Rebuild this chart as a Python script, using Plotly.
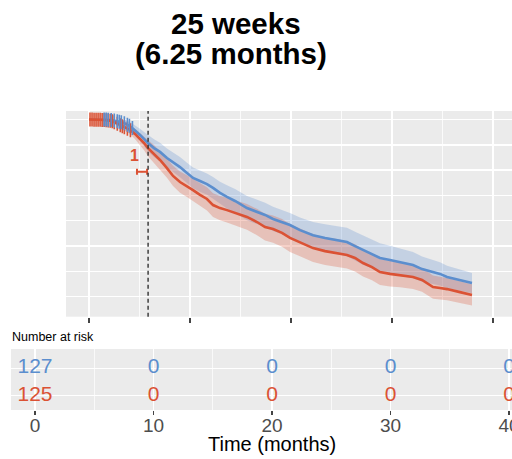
import numpy as np
import plotly.graph_objects as go

# ---------------- data ----------------
time_months = [0.00, 1.58, 2.28, 2.87, 3.47, 4.06, 4.55, 5.05, 5.45, 5.84,
               6.44, 7.03, 7.72, 8.32, 9.01, 9.70, 10.30, 10.99, 11.68, 12.28,
               12.97, 13.66, 14.46, 15.64, 16.63, 17.43, 18.22, 19.11, 19.90, 20.89,
               22.18, 23.37, 24.55, 25.54, 26.34, 27.13, 28.02, 28.81, 29.80, 30.79,
               32.08, 32.97, 34.06, 34.75, 35.45, 36.73, 37.92]

surv_blue = [1.000, 1.000, 0.998, 0.992, 0.986, 0.974, 0.958, 0.939, 0.923, 0.907,
             0.887, 0.872, 0.848, 0.832, 0.812, 0.789, 0.769, 0.757, 0.745, 0.730,
             0.710, 0.694, 0.678, 0.650, 0.635, 0.623, 0.607, 0.595, 0.583, 0.563,
             0.543, 0.532, 0.524, 0.516, 0.500, 0.484, 0.469, 0.453, 0.445, 0.437,
             0.425, 0.409, 0.398, 0.390, 0.378, 0.366, 0.354]

surv_red = [1.000, 0.998, 0.994, 0.982, 0.970, 0.959, 0.943, 0.923, 0.907, 0.887,
            0.864, 0.840, 0.808, 0.777, 0.753, 0.737, 0.721, 0.702, 0.686, 0.662,
            0.650, 0.642, 0.631, 0.615, 0.595, 0.575, 0.567, 0.552, 0.532, 0.516,
            0.492, 0.480, 0.473, 0.465, 0.453, 0.433, 0.417, 0.397, 0.390, 0.386,
            0.378, 0.366, 0.338, 0.334, 0.330, 0.318, 0.307]

ci_half_blue = [0.000, 0.004, 0.006, 0.008, 0.012, 0.016, 0.020, 0.024, 0.028, 0.032,
                0.035, 0.036, 0.037, 0.038, 0.040, 0.040, 0.041, 0.042, 0.042, 0.043,
                0.044, 0.046, 0.047, 0.048, 0.048, 0.048, 0.048, 0.048, 0.048, 0.050,
                0.052, 0.054, 0.055, 0.056, 0.057, 0.058, 0.058, 0.058, 0.056, 0.054,
                0.052, 0.050, 0.048, 0.046, 0.044, 0.042, 0.040]

ci_half_red = [0.000, 0.004, 0.006, 0.008, 0.012, 0.016, 0.020, 0.024, 0.028, 0.032,
               0.035, 0.036, 0.038, 0.040, 0.042, 0.043, 0.044, 0.045, 0.046, 0.047,
               0.048, 0.049, 0.050, 0.051, 0.052, 0.053, 0.054, 0.055, 0.055, 0.055,
               0.055, 0.055, 0.055, 0.054, 0.054, 0.053, 0.052, 0.051, 0.050, 0.049,
               0.048, 0.047, 0.046, 0.045, 0.044, 0.043, 0.042]

censor_blue = [1.5, 1.7, 1.9, 2.2, 2.5, 2.8, 3.0, 3.2, 3.5, 3.8, 4.0, 4.3]
censor_red = [0.1, 0.3, 0.5, 0.7, 0.9, 1.1, 1.3, 1.5, 1.7, 1.9, 2.1, 2.3, 2.5,
              2.8, 3.1, 3.3, 3.5, 3.8, 4.1]

landmark_month = 5.85

risk_times = [0, 10, 20, 30, 40]
risk_blue = ["127", "0", "0", "0", "0"]
risk_red = ["125", "0", "0", "0", "0"]

title_line1 = "25 weeks"
title_line2 = "(6.25 months)"

BLUE = "#5B8ECE"
RED = "#DB5234"
FONT = "Liberation Sans, Arial, Helvetica, sans-serif"

fig = go.Figure()

t = np.array(time_months)


def curve_at(times, surv, q):
    return np.interp(q, times, surv)


for surv, half, rgba in [
    (surv_blue, ci_half_blue, "rgba(91,142,206,0.27)"),
    (surv_red, ci_half_red, "rgba(219,82,52,0.27)"),
]:
    s = np.array(surv)
    h = np.array(half)
    lo = s - h
    hi = np.minimum(s + h, 1.0)
    fig.add_trace(go.Scatter(x=t, y=lo, mode="lines", line=dict(width=0),
                             showlegend=False, hoverinfo="skip", xaxis="x", yaxis="y"))
    fig.add_trace(go.Scatter(x=t, y=hi, mode="lines", line=dict(width=0),
                             fill="tonexty", fillcolor=rgba, showlegend=False,
                             hoverinfo="skip", xaxis="x", yaxis="y"))

for surv, col in [(surv_blue, BLUE), (surv_red, RED)]:
    fig.add_trace(go.Scatter(x=t, y=surv, mode="lines", line=dict(color=col, width=2.6),
                             showlegend=False, xaxis="x", yaxis="y"))

for cens, surv, col in [(censor_red, surv_red, RED), (censor_blue, surv_blue, BLUE)]:
    cy = curve_at(t, surv, np.array(cens))
    fig.add_trace(go.Scatter(x=cens, y=cy, mode="markers",
                             marker=dict(symbol="line-ns-open", size=10, color=col,
                                         line=dict(width=1.6, color=col)),
                             showlegend=False, xaxis="x", yaxis="y"))

# small red interval marker
fig.add_trace(go.Scatter(x=[5.25], y=[0.794], mode="markers",
                         marker=dict(size=1, color=RED),
                         error_x=dict(type="data", array=[0.5], color=RED, thickness=2, width=3),
                         showlegend=False, xaxis="x", yaxis="y"))

# risk table
fig.add_trace(go.Scatter(x=risk_times, y=[2] * len(risk_times), mode="text", text=risk_blue,
                         textfont=dict(color=BLUE, size=21, family=FONT),
                         showlegend=False, xaxis="x2", yaxis="y2"))
fig.add_trace(go.Scatter(x=risk_times, y=[1] * len(risk_times), mode="text", text=risk_red,
                         textfont=dict(color=RED, size=21, family=FONT),
                         showlegend=False, xaxis="x2", yaxis="y2"))

fig.add_shape(type="line", x0=landmark_month, x1=landmark_month, xref="x",
              y0=0, y1=1, yref="y domain",
              line=dict(color="#333333", width=1.4, dash="4px,3px"))

W, H = 512, 459

fig.update_layout(
    width=W, height=H, autosize=False,
    margin=dict(l=0, r=0, t=0, b=0, autoexpand=False),
    paper_bgcolor="white",
    plot_bgcolor="#EBEBEB",
    font=dict(family=FONT),
    xaxis=dict(domain=[66 / W, 1.0], range=[-2.277, 41.88], anchor="y",
               tickvals=[0, 10, 20, 30, 40], showticklabels=False,
               ticks="outside", ticklen=5.5, tickwidth=2, tickcolor="#444444",
               showgrid=True, gridcolor="white", gridwidth=1.5,
               minor=dict(tickvals=[5, 15, 25, 35], showgrid=True, gridcolor="white", gridwidth=0.8),
               zeroline=False, showline=False, automargin=False),
    yaxis=dict(domain=[1 - 316.7 / H, 1 - 111 / H], range=[0.2209, 1.0336], anchor="x",
               tickvals=[0.3, 0.4, 0.5, 0.6, 0.7, 0.8, 0.9, 1.0], showticklabels=False,
               ticks="", showgrid=True, gridcolor="white", gridwidth=1.4,
               zeroline=False, showline=False, automargin=False),
    xaxis2=dict(domain=[11 / W, 1.0], range=[-2.025, 40.25], anchor="y2",
                tickvals=risk_times, ticktext=[str(v) for v in risk_times],
                ticks="outside", ticklen=4, tickwidth=1.5, tickcolor="#444444",
                tickfont=dict(size=19, color="#4D4D4D", family=FONT),
                ticklabeloverflow="allow", ticklabelstandoff=-6,
                showgrid=True, gridcolor="white", gridwidth=1.2,
                minor=dict(tickvals=[5, 15, 25, 35], showgrid=True, gridcolor="white", gridwidth=0.7),
                zeroline=False, showline=False, automargin=False),
    yaxis2=dict(domain=[1 - 410 / H, 1 - 349 / H], range=[0.47, 2.70], anchor="x2",
                tickvals=[1, 2], showticklabels=False, ticks="",
                showgrid=True, gridcolor="white", gridwidth=1.2,
                zeroline=False, showline=False, automargin=False),
    annotations=[
        dict(text="<b>" + title_line1 + "</b>", x=236 / W, y=1 - 23 / H, xref="paper", yref="paper",
             xanchor="center", yanchor="middle", showarrow=False,
             font=dict(size=29.5, color="black", family=FONT)),
        dict(text="<b>" + title_line2 + "</b>", x=231 / W, y=1 - 53.5 / H, xref="paper", yref="paper",
             xanchor="center", yanchor="middle", showarrow=False,
             font=dict(size=29.5, color="black", family=FONT)),
        dict(text="<b>1</b>", x=4.5, y=0.856, xref="x", yref="y",
             xanchor="center", yanchor="middle", showarrow=False,
             font=dict(size=16, color=RED, family=FONT)),
        dict(text="Number at risk", x=10 / W, y=1 - 337 / H, xref="paper", yref="paper",
             xanchor="left", yanchor="middle", showarrow=False,
             font=dict(size=12.5, color="black", family=FONT)),
        dict(text="Time (months)", x=20, y=1 - 444 / H, xref="x2", yref="paper",
             xanchor="center", yanchor="middle", showarrow=False,
             font=dict(size=20, color="black", family=FONT)),
    ],
)

fig.write_html("out.html",
               config={"responsive": False, "displayModeBar": False, "staticPlot": True},
               post_script="document.body.style.margin='0';document.body.style.overflow='hidden';")
